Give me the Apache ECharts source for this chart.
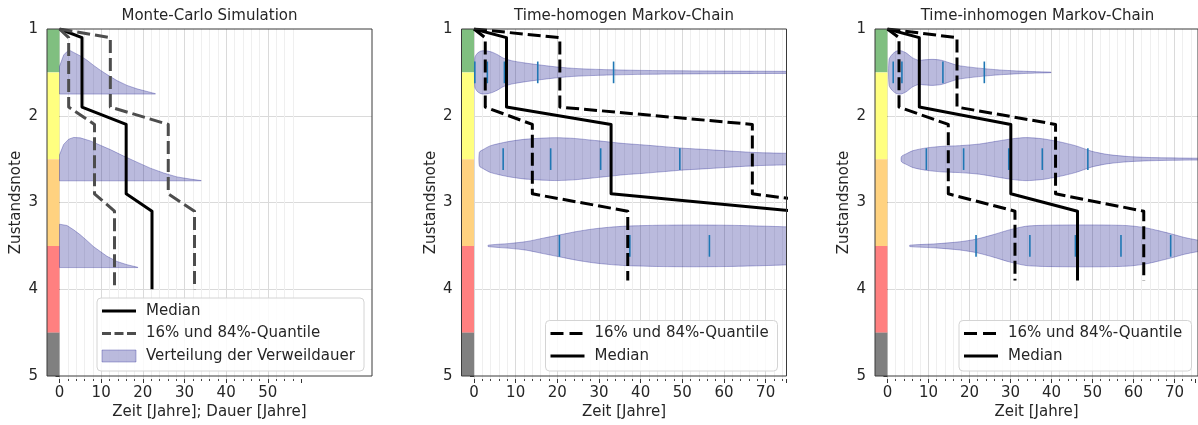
<!DOCTYPE html>
<html>
<head>
<meta charset="utf-8">
<script src="https://cdn.jsdelivr.net/npm/echarts@6/dist/echarts.min.js"></script>
<style>
html, body { margin: 0; padding: 0; background: #ffffff; }
#chart { width: 1198px; height: 425px; }
</style>
</head>
<body>
<div id="chart"></div>
<script>
// ---------------- data ----------------
// condition grade bands (edges on the Zustandsnote axis) and their colours
const bandEdges = [1, 1.5, 2.5, 3.5, 4.5, 5];
const bandColors = ['#80bf80', '#ffff80', '#ffd280', '#ff8080', '#808080'];
const yTicks = [1, 2, 3, 4, 5];

// Monte-Carlo simulation: median and 16 % / 84 % quantile paths  [Zeit, Zustandsnote]
const mcMedian = [[0, 1], [5.4, 1.1], [5.4, 1.9], [16.0, 2.1], [16.0, 2.9], [22.2, 3.1], [22.2, 4.0]];
const mcQ16 = [[0, 1], [2.2, 1.1], [2.2, 1.9], [8.4, 2.1], [8.4, 2.9], [13.2, 3.1], [13.2, 4.0]];
const mcQ84 = [[0, 1], [12.2, 1.1], [12.2, 1.9], [26.1, 2.1], [26.1, 2.9], [32.4, 3.1], [32.4, 4.0]];

// Monte-Carlo: distribution of the dwell time per grade (one-sided, drawn upwards from a base line)
const mcDistBase = [1.75, 2.75, 3.75];
const mcDist1X = [0, 1.0, 1.8, 2.6, 3.4, 5.0, 6.6, 8.2, 9.8, 11.4, 13.8, 16.2, 18.6, 21.0, 23.0];
const mcDist1H = [0.32, 0.45, 0.49, 0.50, 0.48, 0.44, 0.39, 0.33, 0.275, 0.225, 0.155, 0.10, 0.06, 0.03, 0.005];
const mcDist2X = [0, 1.0, 2.2, 3.4, 5.0, 7.4, 9.8, 12.2, 15.4, 18.6, 21.8, 25.0, 28.2, 31.4, 34.0];
const mcDist2H = [0.30, 0.42, 0.48, 0.50, 0.495, 0.46, 0.41, 0.36, 0.285, 0.215, 0.146, 0.09, 0.045, 0.02, 0.003];
const mcDist3X = [0, 1.8, 3.4, 5.0, 6.6, 8.2, 9.8, 11.4, 13.8, 16.2, 18.8];
const mcDist3H = [0.50, 0.485, 0.435, 0.377, 0.31, 0.24, 0.185, 0.13, 0.07, 0.033, 0.003];

// Time-homogeneous Markov chain
const hoMedian = [[0, 1], [7.8, 1.1], [7.8, 1.9], [32.9, 2.1], [32.9, 2.9], [77.2, 3.1], [77.2, 3.9]];
const hoQ16 = [[0, 1], [2.7, 1.1], [2.7, 1.9], [14.0, 2.1], [14.0, 2.9], [36.9, 3.1], [36.9, 3.9]];
const hoQ84 = [[0, 1], [20.6, 1.1], [20.6, 1.9], [66.8, 2.1], [66.8, 2.9], [99.6, 3.1], [99.6, 3.9]];

// violins: centre grade, sample positions (Zeit) and half widths (in grade units)
const violinCenters = [1.5, 2.5, 3.5];
const hoViolin1X = [0.2, 0.8, 1.6, 2.4, 3.4, 4.5, 5.8, 7.0, 9.0, 12.0, 15.4, 19.4, 23.4, 28.0, 33.0, 40.0, 48.0, 60.0, 75.0, 85.0];
const hoViolin1W = [0.17, 0.22, 0.245, 0.25, 0.245, 0.23, 0.2, 0.165, 0.135, 0.11, 0.088, 0.065, 0.048, 0.037, 0.03, 0.023, 0.019, 0.015, 0.012, 0.01];
const hoViolin2X = [1.3, 2.2, 4.0, 8.0, 12.0, 16.8, 20.0, 24.0, 28.0, 32.0, 36.0, 40.8, 45.6, 50.4, 56.0, 62.4, 68.0, 74.0, 85.0];
const hoViolin2W = [0.08, 0.11, 0.155, 0.2, 0.228, 0.243, 0.247, 0.239, 0.22, 0.2, 0.18, 0.163, 0.144, 0.125, 0.11, 0.09, 0.075, 0.068, 0.055];
const hoViolin3X = [3.4, 8.6, 12.6, 16.6, 20.6, 24.6, 28.6, 32.6, 36.6, 44.6, 52.6, 60.6, 68.6, 74.6, 85.0];
const hoViolin3W = [0.008, 0.028, 0.05, 0.089, 0.127, 0.165, 0.195, 0.215, 0.228, 0.238, 0.241, 0.238, 0.229, 0.22, 0.2];
const hoTicks1 = [0.2, 3.2, 7.3, 15.3, 33.5];
const hoTicks2 = [7.0, 18.4, 30.4, 49.4];
const hoTicks3 = [20.5, 37.4, 56.5];

// Time-inhomogeneous Markov chain
const inMedian = [[0, 1], [7.7, 1.1], [7.7, 1.9], [29.8, 2.1], [29.8, 2.9], [45.9, 3.1], [45.9, 3.9]];
const inQ16 = [[0, 1], [2.8, 1.1], [2.8, 1.9], [14.7, 2.1], [14.7, 2.9], [30.8, 3.1], [30.8, 3.9]];
const inQ84 = [[0, 1], [16.8, 1.1], [16.8, 1.9], [40.6, 2.1], [40.6, 2.9], [61.9, 3.1], [61.9, 3.9]];
const inViolin1X = [0.4, 1.2, 2.2, 3.2, 4.5, 6.0, 7.5, 9.0, 11.0, 13.0, 15.0, 17.0, 20.0, 24.0, 28.0, 32.0, 36.0, 39.5];
const inViolin1W = [0.15, 0.21, 0.245, 0.25, 0.225, 0.17, 0.14, 0.145, 0.15, 0.14, 0.11, 0.08, 0.06, 0.04, 0.025, 0.015, 0.008, 0.003];
const inViolin2X = [3.4, 4.5, 6.2, 9.4, 13.4, 17.4, 22.2, 26.2, 30.2, 33.4, 37.4, 41.4, 45.4, 49.4, 53.4, 58.2, 63.8, 74.0, 85.0];
const inViolin2W = [0.03, 0.06, 0.098, 0.129, 0.148, 0.155, 0.174, 0.205, 0.235, 0.248, 0.235, 0.201, 0.155, 0.09, 0.052, 0.03, 0.018, 0.011, 0.008];
const inViolin3X = [5.4, 11.8, 17.4, 21.4, 25.4, 29.4, 33.4, 37.4, 43.8, 51.8, 58.2, 62.2, 65.4, 68.6, 71.8, 74.5, 78.0, 84.0];
const inViolin3W = [0.008, 0.024, 0.047, 0.077, 0.127, 0.184, 0.226, 0.237, 0.241, 0.241, 0.233, 0.21, 0.176, 0.138, 0.096, 0.07, 0.04, 0.01];
const inTicks1 = [1.4, 3.5, 13.4, 23.4];
const inTicks2 = [9.4, 18.4, 29.3, 37.4, 48.4];
const inTicks3 = [21.4, 34.4, 45.4, 56.4, 68.4];

// ---------------- styling / layout ----------------
const FONT = 'DejaVu Sans';
const TEXT = '#262626';
const VIOLIN_FILL = 'rgba(0, 0, 128, 0.27)';
const VIOLIN_EDGE = 'rgba(40, 40, 150, 0.35)';
const TICK_BLUE = '#1f77b4';
const PLOT_TOP = 29, PLOT_H = 350, PLOT_W = 325;
const X_MIN = -3, X_MAX = 75;
const unit = PLOT_W / (X_MAX - X_MIN);
const panelLeft = [47, 461.5, 875];
const NAME_MEDIAN = 'Median';
const NAME_QUANT = '16% und 84%-Quantile';
const NAME_DIST = 'Verteilung der Verweildauer';

const panels = [
  {
    title: 'Monte-Carlo Simulation', xName: 'Zeit [Jahre]; Dauer [Jahre]', tickMax: 58,
    median: mcMedian, q16: mcQ16, q84: mcQ84, quantColor: '#4d4d4d',
    halfViolins: [
      { base: mcDistBase[0], x: mcDist1X, h: mcDist1H },
      { base: mcDistBase[1], x: mcDist2X, h: mcDist2H },
      { base: mcDistBase[2], x: mcDist3X, h: mcDist3H }
    ]
  },
  {
    title: 'Time-homogen Markov-Chain', xName: 'Zeit [Jahre]', tickMax: 75,
    median: hoMedian, q16: hoQ16, q84: hoQ84, quantColor: '#000000',
    violins: [
      { c: violinCenters[0], x: hoViolin1X, w: hoViolin1W, ticks: hoTicks1 },
      { c: violinCenters[1], x: hoViolin2X, w: hoViolin2W, ticks: hoTicks2 },
      { c: violinCenters[2], x: hoViolin3X, w: hoViolin3W, ticks: hoTicks3 }
    ]
  },
  {
    title: 'Time-inhomogen Markov-Chain', xName: 'Zeit [Jahre]', tickMax: 75,
    median: inMedian, q16: inQ16, q84: inQ84, quantColor: '#000000',
    violins: [
      { c: violinCenters[0], x: inViolin1X, w: inViolin1W, ticks: inTicks1 },
      { c: violinCenters[1], x: inViolin2X, w: inViolin2W, ticks: inTicks2 },
      { c: violinCenters[2], x: inViolin3X, w: inViolin3W, ticks: inTicks3 }
    ]
  }
];

const chart = echarts.init(document.getElementById('chart'), null, { renderer: 'canvas' });
const grid = [], xAxis = [], yAxis = [], series = [], title = [], graphic = [];

const bandAreas = bandColors.map((col, k) => [
  { xAxis: X_MIN, yAxis: bandEdges[k], itemStyle: { color: col } },
  { xAxis: 0, yAxis: bandEdges[k + 1] }
]);

panels.forEach((p, i) => {
  const L = panelLeft[i];
  const a = 2 * i, b = 2 * i + 1;

  // data grid (full range incl. the grade bar) and tick grid (starting at Zeit = 0)
  grid.push({ left: L, top: PLOT_TOP, width: PLOT_W, height: PLOT_H, show: true, z: 20,
              borderColor: '#3a3a3a', borderWidth: 1, backgroundColor: 'rgba(0,0,0,0)' });
  grid.push({ left: L + (0 - X_MIN) * unit, top: PLOT_TOP, width: p.tickMax * unit, height: PLOT_H, show: false });

  xAxis.push({
    gridIndex: a, type: 'value', min: X_MIN, max: X_MAX,
    axisLine: { show: false }, axisTick: { show: false }, axisLabel: { show: false }, splitLine: { show: false },
    name: p.xName, nameLocation: 'middle', nameGap: 29,
    nameTextStyle: { fontFamily: FONT, fontSize: 15, color: TEXT }
  });
  xAxis.push({
    gridIndex: b, type: 'value', min: 0, max: p.tickMax, interval: 10,
    axisLine: { show: false },
    axisTick: { show: true, length: 4, lineStyle: { color: '#333333', width: 1 } },
    minorTick: { show: true, splitNumber: 5, length: 2, lineStyle: { color: '#444444', width: 1 } },
    axisLabel: { fontFamily: FONT, fontSize: 15, color: TEXT, margin: 7,
                 formatter: v => (v % 10 === 0 ? String(v) : '') },
    splitLine: { show: true, showMaxLine: false, lineStyle: { color: '#dadada', width: 1 } },
    minorSplitLine: { show: true, lineStyle: { color: '#efefef', width: 1 } }
  });

  yAxis.push({
    gridIndex: a, type: 'value', inverse: true, min: yTicks[0], max: yTicks[yTicks.length - 1], interval: 1,
    axisLine: { show: false },
    axisTick: { show: true, length: 4, lineStyle: { color: '#333333' } },
    axisLabel: { fontFamily: FONT, fontSize: 15, color: TEXT, margin: 9 },
    splitLine: { show: true, showMinLine: false, showMaxLine: false, lineStyle: { color: '#dadada' } },
    name: 'Zustandsnote', nameLocation: 'middle', nameGap: 23, nameRotate: 90,
    nameTextStyle: { fontFamily: FONT, fontSize: 15, color: TEXT }
  });
  yAxis.push({ gridIndex: b, type: 'value', inverse: true, min: 1, max: 5, show: false });

  title.push({
    text: p.title, left: L + PLOT_W / 2, top: 9, textAlign: 'center', padding: 0,
    textStyle: { fontFamily: FONT, fontSize: 15, fontWeight: 'normal', color: TEXT }
  });

  const lineBase = { type: 'line', xAxisIndex: a, yAxisIndex: a, symbol: 'none', clip: true,
                     silent: true, animation: false };
  const quantStyle = { color: p.quantColor, width: 3, type: [13, 5], join: 'round' };

  if (p.halfViolins) {
    series.push(Object.assign({}, lineBase, { name: NAME_MEDIAN, data: p.median,
      lineStyle: { color: '#000000', width: 3, join: 'round' },
      markArea: { silent: true, data: bandAreas } }));
    series.push(Object.assign({}, lineBase, { name: NAME_QUANT, data: p.q16, lineStyle: quantStyle }));
    series.push(Object.assign({}, lineBase, { name: NAME_QUANT, data: p.q84, lineStyle: quantStyle }));
    const hv = p.halfViolins;
    series.push({
      type: 'custom', name: NAME_DIST, xAxisIndex: a, yAxisIndex: a, clip: true, silent: true, animation: false,
      data: hv.map(d => [d.x[0], d.base]),
      renderItem: (params, api) => {
        const d = hv[params.dataIndex];
        const pts = [api.coord([d.x[0], d.base])];
        for (let k = 0; k < d.x.length; k++) pts.push(api.coord([d.x[k], d.base - d.h[k]]));
        pts.push(api.coord([d.x[d.x.length - 1], d.base]));
        return { type: 'polygon', shape: { points: pts },
                 style: { fill: VIOLIN_FILL, stroke: VIOLIN_EDGE, lineWidth: 1 } };
      }
    });
  } else {
    series.push(Object.assign({}, lineBase, { name: NAME_QUANT, data: p.q16, lineStyle: quantStyle,
      markArea: { silent: true, data: bandAreas } }));
    series.push(Object.assign({}, lineBase, { name: NAME_QUANT, data: p.q84, lineStyle: quantStyle }));
    series.push(Object.assign({}, lineBase, { name: NAME_MEDIAN, data: p.median,
      lineStyle: { color: '#000000', width: 3, join: 'round' } }));
    const vs = p.violins;
    series.push({
      type: 'custom', name: 'violin', xAxisIndex: a, yAxisIndex: a, clip: true, silent: true, animation: false,
      data: vs.map(v => [v.x[0], v.c]),
      renderItem: (params, api) => {
        const v = vs[params.dataIndex];
        const top = [], bot = [];
        for (let k = 0; k < v.x.length; k++) {
          top.push(api.coord([v.x[k], v.c - v.w[k]]));
          bot.push(api.coord([v.x[k], v.c + v.w[k]]));
        }
        return { type: 'polygon', shape: { points: top.concat(bot.reverse()), smooth: 0.25 },
                 style: { fill: VIOLIN_FILL, stroke: VIOLIN_EDGE, lineWidth: 1 } };
      }
    });
    const tickData = [];
    vs.forEach(v => v.ticks.forEach(t => tickData.push([t, v.c])));
    series.push({
      type: 'custom', name: 'quantile ticks', xAxisIndex: a, yAxisIndex: a, clip: true, silent: true, animation: false,
      data: tickData,
      renderItem: (params, api) => {
        const x = api.value(0), c = api.value(1);
        const p1 = api.coord([x, c - 0.125]), p2 = api.coord([x, c + 0.125]);
        return { type: 'line', shape: { x1: p1[0], y1: p1[1], x2: p2[0], y2: p2[1] },
                 style: { stroke: TICK_BLUE, lineWidth: 1.6 } };
      }
    });
  }
});

// ---------------- legend boxes ----------------
function legendBox(x, y, w, h, items) {
  graphic.push({ type: 'rect', z: 100, shape: { x: x, y: y, width: w, height: h, r: 4 },
                 style: { fill: 'rgba(255,255,255,0.85)', stroke: '#d4d4d4', lineWidth: 1 } });
  items.forEach((it, k) => {
    const cy = y + 13 + k * 22.5;
    const sx = x + 5, ex = x + 39;
    if (it.kind === 'area') {
      graphic.push({ type: 'rect', z: 101, shape: { x: sx, y: cy - 6, width: ex - sx, height: 12 },
                     style: { fill: VIOLIN_FILL, stroke: VIOLIN_EDGE, lineWidth: 1 } });
    } else {
      graphic.push({ type: 'line', z: 101, shape: { x1: sx, y1: cy, x2: ex, y2: cy },
                     style: { stroke: it.color, lineWidth: 3, lineDash: it.dash || null } });
    }
    graphic.push({ type: 'text', z: 101, x: x + 49, y: cy,
                   style: { text: it.label, fontFamily: FONT, fontSize: 15, fill: TEXT, verticalAlign: 'middle' } });
  });
}
legendBox(97, 298, 267, 73, [
  { kind: 'line', color: '#000000', label: NAME_MEDIAN },
  { kind: 'line', color: '#4d4d4d', dash: [9, 3.5], label: NAME_QUANT },
  { kind: 'area', label: NAME_DIST }
]);
legendBox(545.5, 320.5, 232, 50.5, [
  { kind: 'line', color: '#000000', dash: [13, 6], label: NAME_QUANT },
  { kind: 'line', color: '#000000', label: NAME_MEDIAN }
]);
legendBox(959, 320.5, 232.5, 50.5, [
  { kind: 'line', color: '#000000', dash: [13, 6], label: NAME_QUANT },
  { kind: 'line', color: '#000000', label: NAME_MEDIAN }
]);

chart.setOption({
  animation: false,
  backgroundColor: '#ffffff',
  textStyle: { fontFamily: FONT },
  title: title,
  grid: grid,
  xAxis: xAxis,
  yAxis: yAxis,
  series: series,
  graphic: graphic
});
</script>
</body>
</html>
